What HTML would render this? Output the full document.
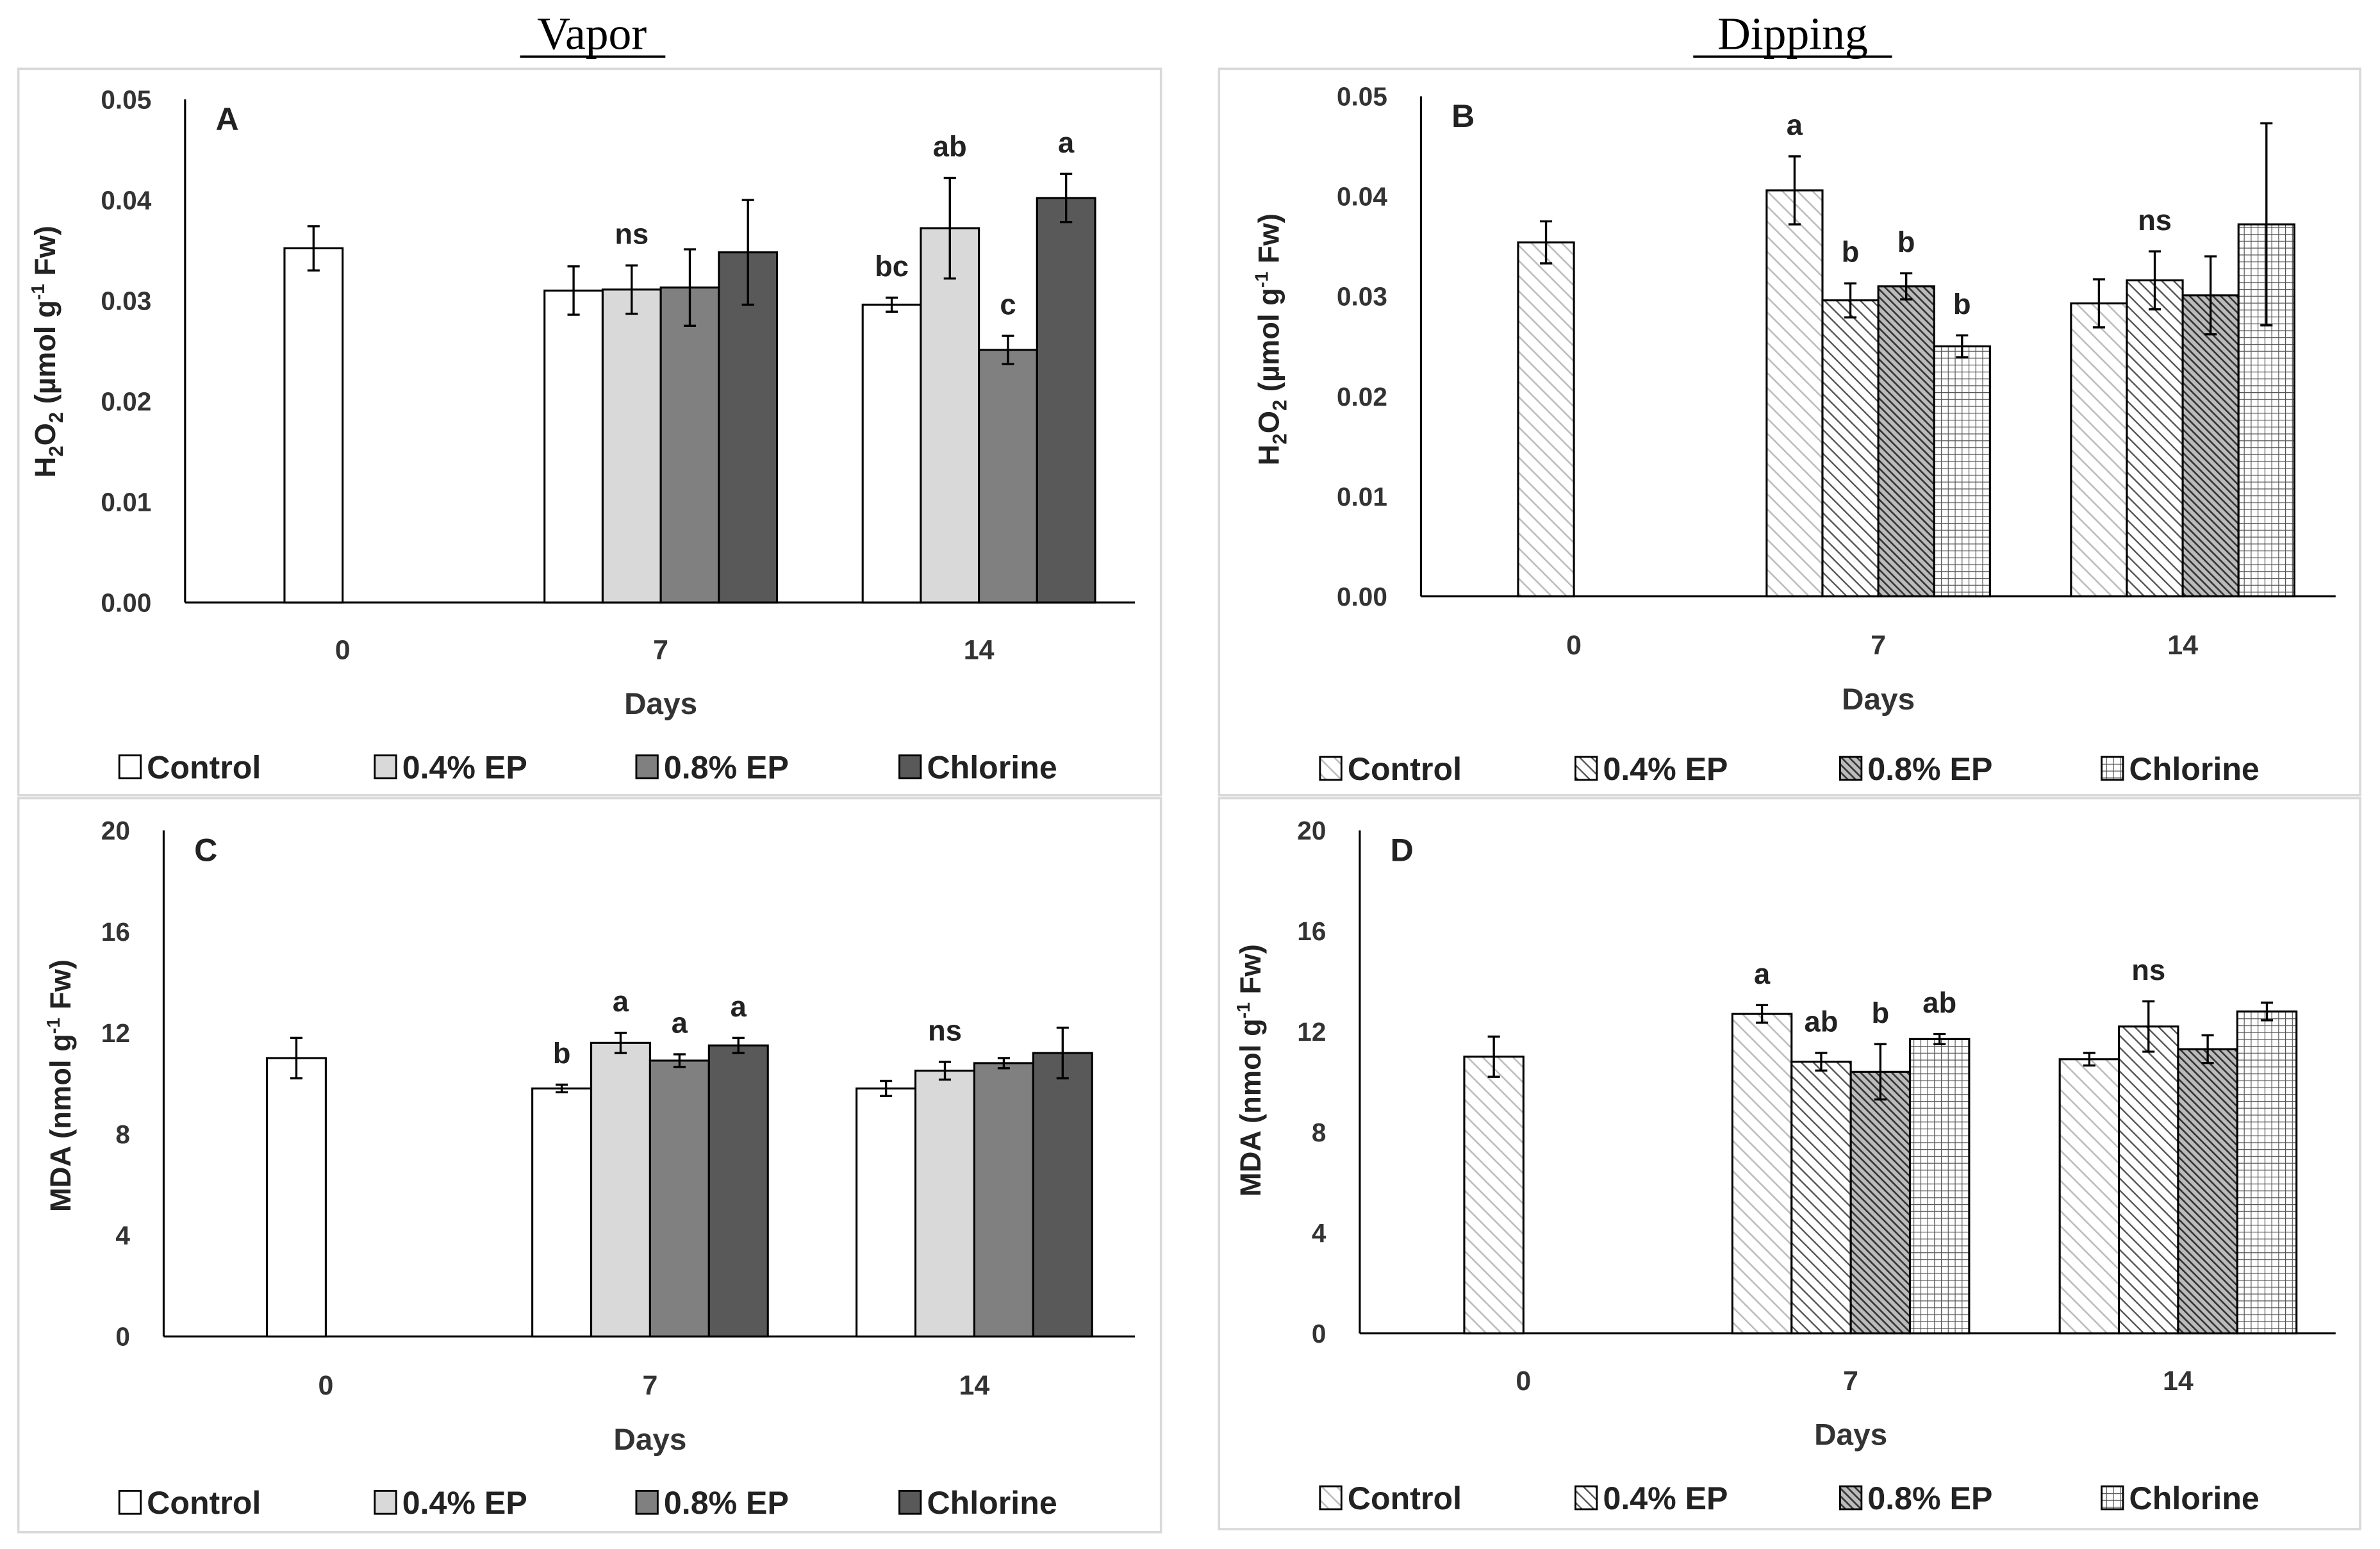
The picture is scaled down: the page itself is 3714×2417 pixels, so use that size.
<!DOCTYPE html>
<html><head><meta charset="utf-8"><style>
html,body{margin:0;padding:0;background:#fff;}
svg{display:block;}
text{font-family:"Liberation Sans",sans-serif;}
</style></head><body>
<svg id="fig" width="3714" height="2417" viewBox="0 0 1556 1013" preserveAspectRatio="none" xmlns="http://www.w3.org/2000/svg">
<defs>
<pattern id="pCtrl" patternUnits="userSpaceOnUse" width="7" height="7" patternTransform="rotate(-45)"><rect width="7" height="7" fill="#fff"/><line x1="0" y1="0" x2="0" y2="7" stroke="#bdbdbd" stroke-width="2.2"/></pattern>
<pattern id="pEp4" patternUnits="userSpaceOnUse" width="5.5" height="5.5" patternTransform="rotate(-45)"><rect width="5.5" height="5.5" fill="#fff"/><line x1="0" y1="0" x2="0" y2="5.5" stroke="#555" stroke-width="2"/></pattern>
<pattern id="pEp8" patternUnits="userSpaceOnUse" width="3.6" height="3.6" patternTransform="rotate(-45)"><rect width="3.6" height="3.6" fill="#bbb"/><line x1="0" y1="0" x2="0" y2="3.6" stroke="#333" stroke-width="2.2"/></pattern>
<pattern id="pChl" patternUnits="userSpaceOnUse" width="4.5" height="4.5"><rect width="4.5" height="4.5" fill="#fff"/><path d="M0 0H4.5M0 0V4.5" stroke="#555" stroke-width="1"/></pattern>
</defs>
<rect x="12" y="45" width="747" height="475" fill="none" stroke="#d9d9d9" stroke-width="1.5"/>
<rect x="797" y="45" width="746" height="475" fill="none" stroke="#d9d9d9" stroke-width="1.5"/>
<rect x="12" y="522" width="747" height="480" fill="none" stroke="#d9d9d9" stroke-width="1.5"/>
<rect x="797" y="522" width="746" height="478" fill="none" stroke="#d9d9d9" stroke-width="1.5"/>
<text x="387" y="32" text-anchor="middle" font-size="30" style="font-family:'Liberation Serif',serif">Vapor</text>
<line x1="340" y1="37" x2="435" y2="37" stroke="#000" stroke-width="1.5"/>
<text x="1172" y="32" text-anchor="middle" font-size="30" style="font-family:'Liberation Serif',serif">Dipping</text>
<line x1="1107" y1="37" x2="1237" y2="37" stroke="#000" stroke-width="1.5"/>
<g id="charts"></g>
</svg>
<script>
// Panel A data (H2O2, vapor)
const daysLabels = ["0","7","14"];
const seriesNames = ["Control","0.4% EP","0.8% EP","Chlorine"];
const aDay0 = [0.0352]; const aDay0Err = [0.0022];
const aDay7 = [0.0310,0.0311,0.0313,0.0348]; const aDay7Err = [0.0024,0.0024,0.0038,0.0052];
const aDay14 = [0.0296,0.0372,0.0251,0.0402]; const aDay14Err = [0.0007,0.0050,0.0014,0.0024];
const aLetters7 = ["","ns","",""]; const aLetters14 = ["bc","ab","c","a"];
// Panel B data (H2O2, dipping)
const bDay0 = [0.0354]; const bDay0Err = [0.0021];
const bDay7 = [0.0406,0.0296,0.0310,0.0250]; const bDay7Err = [0.0034,0.0017,0.0013,0.0011];
const bDay14 = [0.0293,0.0316,0.0301,0.0372]; const bDay14Err = [0.0024,0.0029,0.0039,0.0101];
const bLetters7 = ["a","b","b","b"]; const bLetters14 = ["","ns","",""];
// Panel C data (MDA, vapor)
const cDay0 = [11.0]; const cDay0Err = [0.8];
const cDay7 = [9.8,11.6,10.9,11.5]; const cDay7Err = [0.15,0.4,0.25,0.3];
const cDay14 = [9.8,10.5,10.8,11.2]; const cDay14Err = [0.3,0.35,0.2,1.0];
const cLetters7 = ["b","a","a","a"]; const cLetters14 = ["","ns","",""];
// Panel D data (MDA, dipping)
const dDay0 = [11.0]; const dDay0Err = [0.8];
const dDay7 = [12.7,10.8,10.4,11.7]; const dDay7Err = [0.35,0.35,1.1,0.2];
const dDay14 = [10.9,12.2,11.3,12.8]; const dDay14Err = [0.25,1.0,0.55,0.35];
const dLetters7 = ["a","ab","b","ab"]; const dLetters14 = ["","ns","",""];
const h2o2Ticks = ["0.00","0.01","0.02","0.03","0.04","0.05"];
const mdaTicks = ["0","4","8","12","16","20"];

const NS="http://www.w3.org/2000/svg";
const root=document.getElementById('charts');
function mk(tag,attrs,parent){const e=document.createElementNS(NS,tag);for(const k in attrs)e.setAttribute(k,attrs[k]);(parent||root).appendChild(e);return e;}

function panel(cfg){
  const g=mk('g',{});
  
  
  const y=v=>cfg.y0+(cfg.yTop-cfg.y0)*(v/cfg.max);
  const xc=i=>cfg.cx[0]+(cfg.cx[1]-cfg.cx[0])*i;
  const ax=mk('line',{x1:cfg.ax,y1:cfg.yTop,x2:cfg.ax,y2:cfg.y0,stroke:'#000','stroke-width':1.3},g);
  
  
  const bx=mk('line',{x1:cfg.ax,y1:cfg.y0,x2:cfg.axEnd,y2:cfg.y0,stroke:'#000','stroke-width':1.3},g);
  
  
  cfg.ticks.forEach((t,i)=>{
    const tt=mk('text',{x:cfg.ax-22,y:y(cfg.max*i/(cfg.ticks.length-1))+6,'text-anchor':'end','font-size':17,'font-weight':'bold',fill:'#333'},g);
    tt.textContent=t;
    
    
  });
  daysLabels.forEach((d,i)=>{
    const tt=mk('text',{x:xc(i),y:cfg.xLabY,'text-anchor':'middle','font-size':18,'font-weight':'bold',fill:'#333'},g);
    tt.textContent=d;
    
    
  });
  const dl=mk('text',{x:xc(1),y:cfg.xLabY+36,'text-anchor':'middle','font-size':20,'font-weight':'bold',fill:'#333'},g);
  dl.textContent='Days';
  
  
  const pl=mk('text',{x:cfg.ax+20,y:cfg.yTop+20,'font-size':21,'font-weight':'bold',fill:'#222'},g);
  pl.textContent=cfg.id.toUpperCase();
  
  
  const yl=mk('text',{x:0,y:0,'text-anchor':'middle','font-size':19,'font-weight':'bold',fill:'#222',transform:`translate(${cfg.yLabX},${cfg.yLabY}) rotate(-90)`},g);
  yl.innerHTML=cfg.yLab;
  
  
  const bw=cfg.bw;
  function bar(cat,slot,val,err,si,letter){
    const left=xc(cat)+(slot-2)*bw;
    const r=mk('rect',{x:left,y:y(val),width:bw,height:cfg.y0-y(val),fill:cfg.fills[si],stroke:'#000','stroke-width':1.3},g);
    
    
    const cx=left+bw/2;
    const e=mk('path',{d:`M${cx} ${y(val+err)}V${y(val-err)}M${cx-4} ${y(val+err)}H${cx+4}M${cx-4} ${y(val-err)}H${cx+4}`,stroke:'#000','stroke-width':1.4,fill:'none'},g);
    
    
    if(letter){
      const lt=mk('text',{x:cx,y:y(val+err)-cfg.letGap,'text-anchor':'middle','font-size':19,'font-weight':'bold',fill:'#222'},g);
      lt.textContent=letter;
      
      
    }
  }
  bar(0,1,cfg.d0[0],cfg.e0[0],0,'');
  cfg.d7.forEach((v,i)=>bar(1,i,v,cfg.e7[i],i,cfg.l7[i]));
  cfg.d14.forEach((v,i)=>bar(2,i,v,cfg.e14[i],i,cfg.l14[i]));
  seriesNames.forEach((n,i)=>{
    const lx=cfg.legX[i];
    const sw=mk('rect',{x:lx,y:cfg.legY-15,width:14,height:15,fill:cfg.fills[i],stroke:'#000','stroke-width':1.2},g);
    
    
    const lt=mk('text',{x:lx+18,y:cfg.legY,'font-size':21,'font-weight':'bold',fill:'#222'},g);
    lt.textContent=n;
    
    
  });
}
const solid=['#ffffff','#d9d9d9','#808080','#595959'];
const hatch=['url(#pCtrl)','url(#pEp4)','url(#pEp8)','url(#pChl)'];
const h2Lab='H<tspan font-size="13" dy="5">2</tspan><tspan dy="-5">O</tspan><tspan font-size="13" dy="5">2</tspan><tspan dy="-5"> (µmol g</tspan><tspan font-size="12" dy="-7">-1</tspan><tspan dy="7"> Fw)</tspan>';
const mdaLab='MDA (nmol g<tspan font-size="12" dy="-7">-1</tspan><tspan dy="7"> Fw)</tspan>';
panel({id:'a',ax:121,axEnd:742,yTop:65,y0:394,max:0.05,cx:[224,432],bw:38,ticks:h2o2Ticks,xLabY:431,yLab:h2Lab,yLabX:36,yLabY:230,letGap:14,fills:solid,
  d0:aDay0,e0:aDay0Err,d7:aDay7,e7:aDay7Err,d14:aDay14,e14:aDay14Err,l7:aLetters7,l14:aLetters14,legX:[78,245,416,588],legY:509});
panel({id:'b',ax:929,axEnd:1527,yTop:63,y0:390,max:0.05,cx:[1029,1228],bw:36.5,ticks:h2o2Ticks,xLabY:428,yLab:h2Lab,yLabX:836,yLabY:222,letGap:14,fills:hatch,
  d0:bDay0,e0:bDay0Err,d7:bDay7,e7:bDay7Err,d14:bDay14,e14:bDay14Err,l7:bLetters7,l14:bLetters14,legX:[863,1030,1203,1374],legY:510});
panel({id:'c',ax:107,axEnd:742,yTop:543,y0:874,max:20,cx:[213,425],bw:38.5,ticks:mdaTicks,xLabY:912,yLab:mdaLab,yLabX:46,yLabY:710,letGap:14,fills:solid,
  d0:cDay0,e0:cDay0Err,d7:cDay7,e7:cDay7Err,d14:cDay14,e14:cDay14Err,l7:cLetters7,l14:cLetters14,legX:[78,245,416,588],legY:990});
panel({id:'d',ax:889,axEnd:1527,yTop:543,y0:872,max:20,cx:[996,1210],bw:38.7,ticks:mdaTicks,xLabY:909,yLab:mdaLab,yLabX:824,yLabY:700,letGap:14,fills:hatch,
  d0:dDay0,e0:dDay0Err,d7:dDay7,e7:dDay7Err,d14:dDay14,e14:dDay14Err,l7:dLetters7,l14:dLetters14,legX:[863,1030,1203,1374],legY:987});
</script>
</body></html>
